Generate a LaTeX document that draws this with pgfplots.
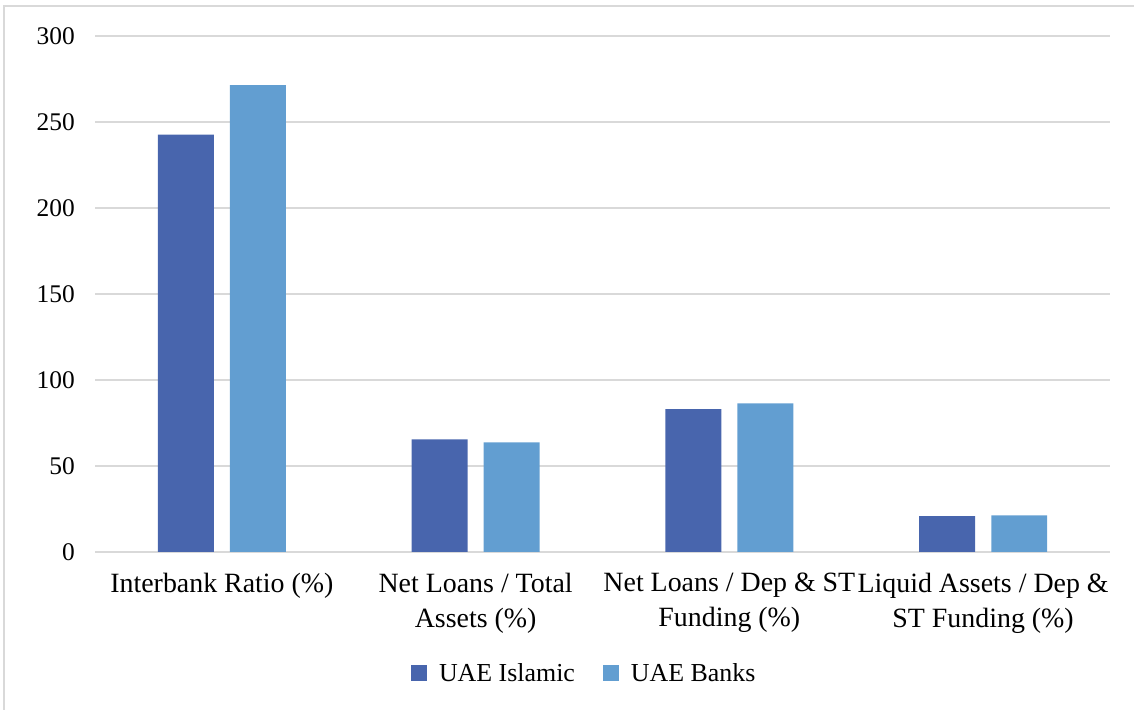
\documentclass[border=0pt]{standalone}
\usepackage{pgfplots}
\pgfplotsset{compat=1.18}
\usepackage{fontspec}
\setmainfont{Liberation Serif}
\definecolor{islamic}{HTML}{4865AD}
\definecolor{banks}{HTML}{629ED1}
\definecolor{gridgray}{HTML}{D9D9D9}
\begin{document}
\begin{tikzpicture}
\useasboundingbox (0,0) rectangle (1134bp,710bp);
\draw[gridgray, line width=1.2bp] (4bp,0) -- (4bp,704bp) -- (1134bp,704bp);
\begin{axis}[
  at={(95bp,158bp)}, anchor=south west,
  scale only axis, width=1015bp, height=516bp,
  ybar, bar width=0.22,
  xmin=-0.5, xmax=3.5, ymin=0, ymax=300,
  ytick={0,50,100,150,200,250,300},
  xtick={0,1,2,3},
  xticklabels={{Interbank Ratio (\%)},{Net Loans / Total\\Assets (\%)},{Net Loans / Dep \& ST\\Funding (\%)},{Liquid Assets / Dep \&\\ST Funding (\%)}},
  axis line style={draw=none},
  major tick length=0pt,
  ymajorgrids, grid style={gridgray, line width=1.3bp},
  /pgf/number format/assume math mode=true,
  yticklabel style={font=\fontsize{25.5}{30}\selectfont, text=black, inner sep=0pt, anchor=east, xshift=-20bp},
  xticklabel style={font=\fontsize{28}{35}\selectfont, text=black, inner sep=0pt, anchor=north, yshift=-21bp, align=center},
  legend style={at={(0.482,-0.2345)}, anchor=center, draw=none, legend columns=2,
    font=\fontsize{26}{30}\selectfont, column sep=10bp,
    /tikz/every even column/.append style={column sep=26bp}},
  legend image code/.code={\fill[#1] (0bp,-8bp) rectangle (16bp,8bp);},
]
\addplot[fill=islamic, draw=none, bar shift=-0.142] coordinates {(0,242.6) (1,65.5) (2,83.1) (3,20.9)};
\addplot[fill=banks, draw=none, bar shift=0.142] coordinates {(0,271.5) (1,63.8) (2,86.4) (3,21.3)};
\legend{UAE Islamic, UAE Banks}
\end{axis}
\end{tikzpicture}
\end{document}
